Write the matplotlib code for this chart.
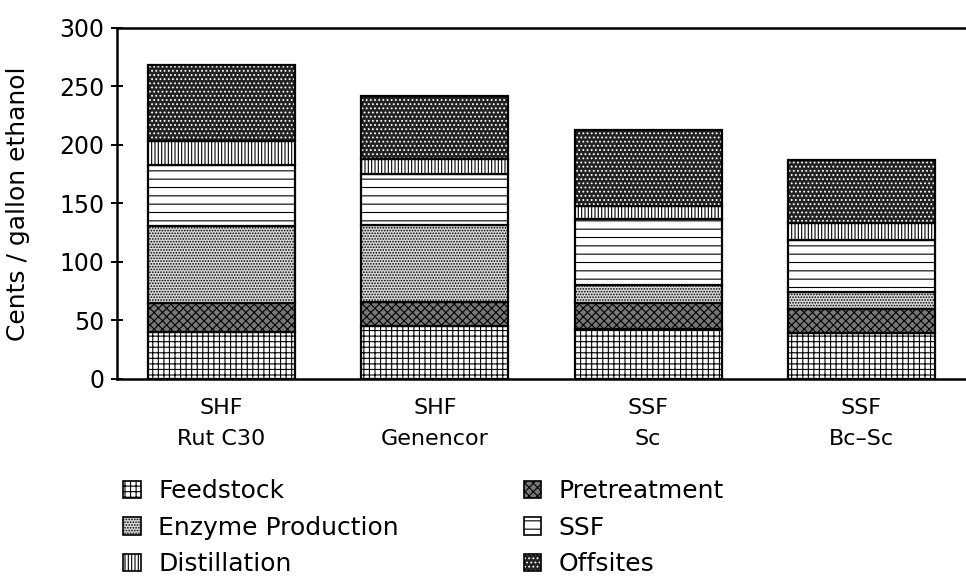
import numpy as np
from matplotlib import pyplot as plt
from matplotlib.patches import Patch
from matplotlib.legend_handler import HandlerTuple

plt.rcParams['font.family'] = ['DejaVu Sans']
plt.rcParams['hatch.linewidth'] = 0.8

# data (cents / gallon ethanol)
cases = ["SHF\nRut C30", "SHF\nGenencor", "SSF\nSc", "SSF\nBc\u2013Sc"]
feedstock = [40, 45, 43, 39]
pretreatment = [25, 21, 22, 21]
enzyme = [66, 66, 15, 14]
ssf = [52, 43, 57, 45]
distillation = [20, 13, 11, 14]
offsites = [65, 54, 65, 54]

series = [
    ("Feedstock", feedstock, dict(facecolor='white', edgecolor='black', hatch='+++')),
    ("Pretreatment", pretreatment, dict(facecolor='#777777', edgecolor='black', hatch='xxxx')),
    ("Enzyme Production", enzyme, dict(facecolor='#d8d8d8', edgecolor='black', hatch='......')),
    ("SSF", ssf, dict(facecolor='white', edgecolor='black', hatch='--')),
    ("Distillation", distillation, dict(facecolor='white', edgecolor='black', hatch='|||||')),
    ("Offsites", offsites, dict(facecolor='#222222', edgecolor='white', hatch='....')),
]

fig = plt.figure(figsize=(9.66, 5.83), dpi=100)
ax = fig.add_axes([0.121, 0.35, 0.879, 0.602])

x = np.arange(len(cases))
width = 0.69
bottom = np.zeros(len(cases))
handles = {}
for name, vals, style in series:
    ax.bar(x, vals, width, bottom=bottom, linewidth=0, **style)
    # outline on top so the dark band keeps a black border
    ax.bar(x, vals, width, bottom=bottom, fill=False, edgecolor='black', linewidth=1.6)
    handles[name] = (Patch(facecolor=style['facecolor'], edgecolor=style['edgecolor'],
                           hatch=style['hatch'], linewidth=0),
                     Patch(fill=False, edgecolor='black', linewidth=1.2))
    bottom += np.array(vals)

ax.set_xlim(-0.49, 3.49)
ax.set_ylim(0, 300)
ax.set_yticks([0, 50, 100, 150, 200, 250, 300])
ax.set_xticks(x)
ax.set_xticklabels(cases, fontsize=16, linespacing=1.65)
ax.tick_params(axis='x', length=0, pad=14)
ax.tick_params(axis='y', direction='inout', length=8, width=1.4, labelsize=17, pad=5)
ax.set_ylabel("Cents / gallon ethanol", fontsize=18)
ax.yaxis.set_label_coords(-0.102, 0.5)

for side in ['left', 'top', 'bottom']:
    ax.spines[side].set_linewidth(1.8)
ax.spines['right'].set_visible(False)

order = ["Feedstock", "Enzyme Production", "Distillation", "Pretreatment", "SSF", "Offsites"]
fig.legend([handles[n] for n in order], order, ncol=2, loc='upper left',
           handler_map={tuple: HandlerTuple(ndivide=1)},
           bbox_to_anchor=(0.117, 0.195), frameon=False, fontsize=18,
           handlelength=0.7, handleheight=0.7, handletextpad=0.7,
           labelspacing=0.5, columnspacing=5.0, borderaxespad=0)

fig.savefig("out.png", dpi=100)
